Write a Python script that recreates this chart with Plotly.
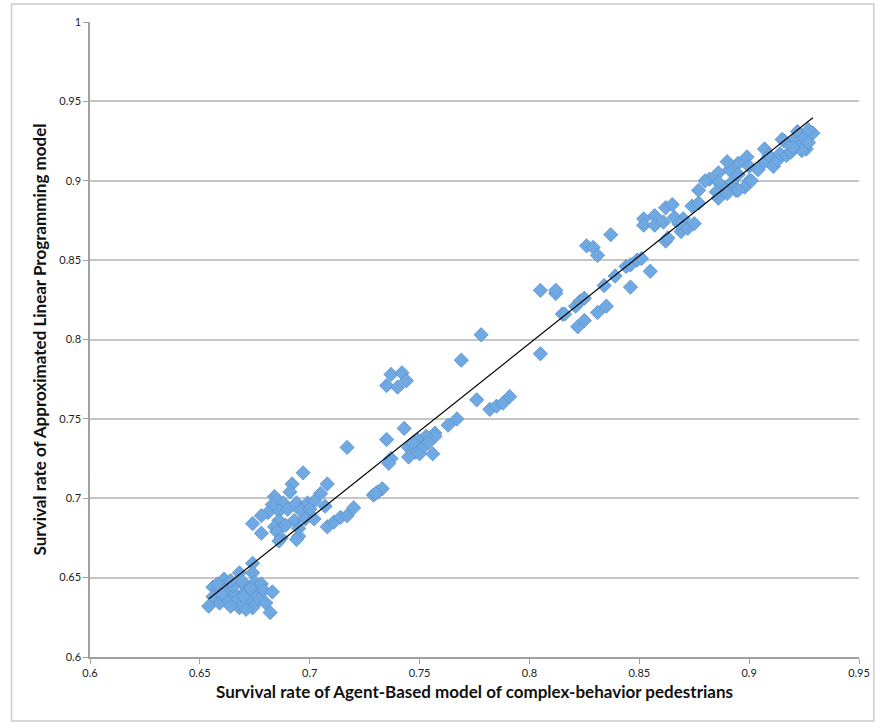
import numpy as np
import plotly.graph_objects as go

# Survival rate of Agent-Based model (x) vs Approximated LP model (y)
abm_rate = [
    # lower cluster
    0.674, 0.674, 0.668, 0.661, 0.656, 0.656, 0.654, 0.659, 0.662, 0.663,
    0.666, 0.667, 0.668, 0.670, 0.671, 0.672, 0.674, 0.675, 0.676, 0.678,
    0.679, 0.677, 0.680, 0.683, 0.682, 0.664, 0.671, 0.665, 0.660, 0.669,
    0.673, 0.658, 0.664, 0.670,
    # second cluster
    0.697, 0.692, 0.708, 0.691, 0.684, 0.705, 0.683, 0.688, 0.694, 0.699,
    0.702, 0.681, 0.686, 0.690, 0.696, 0.700, 0.707, 0.678, 0.686, 0.693,
    0.698, 0.702, 0.674, 0.684, 0.689, 0.695, 0.678, 0.685, 0.695, 0.687,
    0.694, 0.686, 0.708, 0.711, 0.714, 0.717, 0.720,
    # middle cluster
    0.769, 0.737, 0.742, 0.735, 0.740, 0.744, 0.776, 0.782, 0.785, 0.788,
    0.791, 0.767, 0.763, 0.717, 0.735, 0.743, 0.757, 0.757, 0.753, 0.749,
    0.745, 0.748, 0.745, 0.750, 0.756, 0.737, 0.736, 0.731, 0.733, 0.752,
    0.754, 0.747, 0.729, 0.730, 0.778,
    # upper-middle cluster
    0.805, 0.805, 0.812, 0.812, 0.815, 0.816, 0.821, 0.823, 0.825, 0.822,
    0.825, 0.831, 0.835, 0.834, 0.839, 0.837, 0.826, 0.829, 0.831, 0.844,
    0.846, 0.849, 0.851, 0.846, 0.855, 0.862, 0.863, 0.852, 0.852, 0.857,
    0.857, 0.861, 0.862, 0.865, 0.866, 0.869, 0.872, 0.875, 0.874, 0.877,
    # top cluster
    0.886, 0.888, 0.886, 0.891, 0.892, 0.894, 0.895, 0.895, 0.899, 0.900,
    0.900, 0.904, 0.907, 0.907, 0.909, 0.911, 0.913, 0.914, 0.916, 0.917,
    0.920, 0.921, 0.922, 0.923, 0.925, 0.926, 0.929, 0.927, 0.890, 0.898,
    0.877, 0.870, 0.868, 0.882, 0.886, 0.885, 0.880, 0.890, 0.895, 0.901,
    0.919, 0.927, 0.924, 0.920, 0.915,
]
alp_rate = [
    # lower cluster
    0.659, 0.653, 0.653, 0.649, 0.644, 0.638, 0.632, 0.634, 0.637, 0.642,
    0.640, 0.636, 0.631, 0.645, 0.641, 0.636, 0.631, 0.647, 0.639, 0.646,
    0.642, 0.636, 0.634, 0.641, 0.628, 0.632, 0.630, 0.645, 0.640, 0.648,
    0.643, 0.646, 0.648, 0.638,
    # second cluster
    0.716, 0.709, 0.709, 0.704, 0.701, 0.703, 0.696, 0.697, 0.697, 0.697,
    0.698, 0.691, 0.692, 0.693, 0.692, 0.693, 0.695, 0.689, 0.686, 0.686,
    0.687, 0.687, 0.684, 0.682, 0.683, 0.681, 0.678, 0.679, 0.676, 0.675,
    0.674, 0.673, 0.682, 0.685, 0.688, 0.689, 0.694,
    # middle cluster
    0.787, 0.778, 0.779, 0.771, 0.770, 0.774, 0.762, 0.756, 0.758, 0.760,
    0.764, 0.750, 0.746, 0.732, 0.737, 0.744, 0.741, 0.739, 0.739, 0.737,
    0.732, 0.729, 0.726, 0.728, 0.728, 0.725, 0.722, 0.704, 0.706, 0.733,
    0.735, 0.735, 0.702, 0.703, 0.803,
    # upper-middle cluster
    0.791, 0.831, 0.829, 0.831, 0.816, 0.816, 0.821, 0.824, 0.826, 0.808,
    0.812, 0.817, 0.821, 0.834, 0.840, 0.866, 0.859, 0.858, 0.853, 0.846,
    0.847, 0.850, 0.851, 0.833, 0.843, 0.862, 0.864, 0.876, 0.872, 0.878,
    0.872, 0.874, 0.883, 0.885, 0.877, 0.868, 0.870, 0.873, 0.884, 0.886,
    # top cluster
    0.889, 0.896, 0.905, 0.907, 0.899, 0.894, 0.911, 0.904, 0.915, 0.900,
    0.909, 0.907, 0.920, 0.912, 0.916, 0.909, 0.913, 0.917, 0.925, 0.916,
    0.920, 0.926, 0.931, 0.922, 0.927, 0.920, 0.930, 0.932, 0.912, 0.896,
    0.894, 0.876, 0.873, 0.901, 0.899, 0.893, 0.900, 0.892, 0.894, 0.900,
    0.918, 0.924, 0.919, 0.921, 0.926,
]

y_tick_vals = [0.6, 0.65, 0.7, 0.75, 0.8, 0.85, 0.9, 0.95, 1.0]
y_tick_text = ["0.6", "0.65", "0.7", "0.75", "0.8", "0.85", "0.9", "0.95", "1"]
x_tick_vals = [0.6, 0.65, 0.7, 0.75, 0.8, 0.85, 0.9, 0.95]
x_tick_text = ["0.6", "0.65", "0.7", "0.75", "0.8", "0.85", "0.9", "0.95"]

x_title = "Survival rate of Agent-Based model of complex-behavior pedestrians"
y_title = "Survival rate of Approximated Linear Programming model"

xa = np.array(abm_rate)
ya = np.array(alp_rate)
slope, intercept = np.polyfit(xa, ya, 1)
line_x = np.array([xa.min(), xa.max()])
line_y = slope * line_x + intercept

fig = go.Figure()
fig.add_trace(go.Scatter(
    x=abm_rate, y=alp_rate, mode="markers",
    marker=dict(symbol="diamond", size=11, color="rgb(112,169,226)",
                line=dict(color="rgb(88,145,208)", width=0.8)),
    showlegend=False, hoverinfo="x+y",
))
fig.add_trace(go.Scatter(
    x=line_x, y=line_y, mode="lines",
    line=dict(color="black", width=1.2),
    showlegend=False, hoverinfo="skip",
))

font_family = "Lato, Open Sans, Liberation Sans, Arial, sans-serif"
L, R, T, B = 90, 18, 22, 66
W, H = 882, 723
pw, ph = W - L - R, H - T - B
fig.update_layout(
    width=W, height=H,
    margin=dict(l=L, r=R, t=T, b=B),
    paper_bgcolor="white", plot_bgcolor="white",
    font=dict(family=font_family, color="#222"),
    xaxis=dict(
        range=[0.6, 0.95], tickvals=x_tick_vals, ticktext=x_tick_text,
        showgrid=False, zeroline=False, showline=True, linecolor="#a0a0a0",
        linewidth=1.5, ticks="outside", ticklen=5, tickcolor="#a0a0a0",
        tickfont=dict(size=11, color="#222"),
        title=dict(text=x_title, font=dict(size=17, color="#111",
                   family=font_family, weight="bold"), standoff=8),
    ),
    yaxis=dict(
        range=[0.6, 1.0], tickvals=y_tick_vals, ticktext=y_tick_text,
        showgrid=True, gridcolor="#c6c6c6", gridwidth=1.5,
        zeroline=False, showline=True, linecolor="#a0a0a0", linewidth=1.5,
        ticks="outside", ticklen=5, tickcolor="#a0a0a0",
        tickfont=dict(size=11, color="#222"),
        title=dict(text=y_title, font=dict(size=17, color="#111",
                   family=font_family, weight="bold"), standoff=8),
    ),
    shapes=[dict(type="rect", xref="paper", yref="paper",
                 x0=(11 - L) / pw, x1=(879 - L) / pw,
                 y0=(H - B - 721) / ph, y1=1 + (T - 4) / ph,
                 line=dict(color="#cccccc", width=1.5),
                 fillcolor="rgba(0,0,0,0)", layer="below")],
)

fig.write_html("out.html",
               config={"displayModeBar": False},
               post_script="document.body.style.margin='0';"
                           "document.body.style.overflow='hidden';")
